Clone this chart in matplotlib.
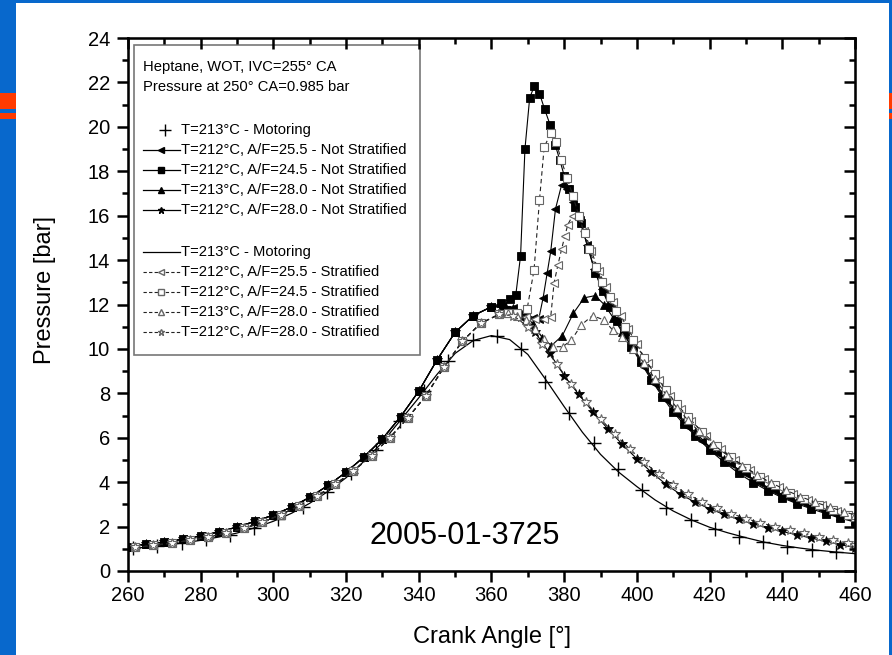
import matplotlib
matplotlib.use("Agg")
import matplotlib.pyplot as plt
from matplotlib.lines import Line2D
from matplotlib.patches import Rectangle
from matplotlib.ticker import MultipleLocator

plt.rcParams['font.family'] = ['Liberation Sans', 'DejaVu Sans']

# compression part shared by the runs
ca_comp_ns = [260, 265, 270, 275, 280, 285, 290, 295, 300, 305, 310, 315, 320, 325, 330, 335, 340,
              345, 350, 355, 360]
p_comp_ns = [1.10, 1.20, 1.30, 1.43, 1.58, 1.76, 1.98, 2.24, 2.52, 2.88, 3.32, 3.85, 4.45, 5.15, 5.95, 6.95, 8.10,
             9.50, 10.75, 11.50, 11.90]
ca_comp_s = [262, 267, 272, 277, 282, 287, 292, 297, 302, 307, 312, 317, 322, 327, 332, 337, 342,
             347, 352, 357, 362]
p_comp_s = [1.06, 1.15, 1.26, 1.38, 1.53, 1.71, 1.93, 2.19, 2.54, 2.92, 3.37, 3.90, 4.50, 5.20, 6.00, 6.90, 7.90,
            9.20, 10.35, 11.15, 11.55]

# not stratified, after 360 deg
ca_ns255 = [363, 366, 369, 371.5, 373, 374.2, 375.3, 376.3, 377.6, 379.3, 380.8, 382.5, 384.3, 386.3, 388.3,
            390.4, 392.4, 394.5, 396.6, 399, 402, 405, 408, 411, 414, 418, 422, 426, 430, 434, 438, 442,
            446, 450, 454, 458, 460]
p_ns255 = [11.95, 11.85, 11.65, 11.4, 11.35, 12.3, 13.4, 14.4, 16.3, 17.4, 17.2, 16.6, 15.8, 14.7, 13.6,
           12.7, 12.0, 11.35, 10.75, 10.1, 9.2, 8.4, 7.7, 7.05, 6.5, 5.85, 5.3, 4.8, 4.35, 3.95, 3.6, 3.3,
           3.05, 2.82, 2.6, 2.42, 2.33]
ca_ns245 = [362.5, 365, 366.7, 368, 369.2, 370.5, 371.8, 373.2, 374.6, 376.1, 377.5, 378.8, 380, 381.3, 383,
            384.6, 386.6, 388.6, 390.6, 392.5, 394.5, 396.5, 398.5, 401, 404, 407, 410, 413, 416, 420, 424,
            428, 432, 436, 440, 444, 448, 452, 456, 460]
p_ns245 = [12.05, 12.25, 12.45, 14.2, 19.0, 21.3, 21.85, 21.5, 20.8, 20.1, 19.2, 18.5, 17.8, 17.2, 16.4,
           15.65, 14.5, 13.4, 12.6, 11.9, 11.25, 10.65, 10.1, 9.4, 8.6, 7.85, 7.15, 6.6, 6.1, 5.45, 4.9,
           4.4, 3.98, 3.62, 3.3, 3.03, 2.8, 2.58, 2.38, 2.2]
ca_ns280 = [363, 366, 369, 371.5, 374, 376.5, 379.5, 382.5, 385.5, 388.5, 391, 393.5, 396, 398.5, 401, 404,
            407, 410, 413, 416, 420, 424, 428, 432, 436, 440, 444, 448, 452, 456, 460]
p_ns280 = [11.95, 11.85, 11.6, 11.1, 10.5, 10.15, 10.6, 11.6, 12.3, 12.4, 12.0, 11.4, 10.75, 10.15, 9.5, 8.75,
           8.0, 7.35, 6.75, 6.25, 5.6, 5.05, 4.55, 4.12, 3.75, 3.42, 3.14, 2.9, 2.68, 2.48, 2.3]
ca_ns280b = [364, 368, 372, 376, 380, 384, 388, 392, 396, 400, 404, 408, 412, 416, 420, 424, 428, 432, 436,
             440, 444, 448, 452, 456, 460]
p_ns280b = [11.85, 11.45, 10.75, 9.8, 8.8, 7.95, 7.15, 6.4, 5.7, 5.05, 4.45, 3.9, 3.45, 3.1, 2.8, 2.55, 2.32,
            2.12, 1.95, 1.78, 1.63, 1.48, 1.34, 1.19, 1.05]

# stratified, after 362 deg
ca_s255 = [364.5, 367, 369.5, 372, 374.5, 376.3, 377.2, 378.3, 379.3, 380.2, 381, 382.3, 383.8, 385.5, 387.5,
           389.5, 391.5, 393.5, 395.5, 397.6, 400, 403, 406, 409, 412, 415, 419, 423, 427, 431, 435, 439,
           443, 447, 451, 455, 460]
p_s255 = [11.6, 11.55, 11.45, 11.35, 11.35, 11.45, 12.96, 13.8, 14.5, 15.1, 15.6, 16.0, 15.9, 15.3, 14.4,
          13.5, 12.8, 12.1, 11.5, 10.9, 10.2, 9.35, 8.6, 7.9, 7.3, 6.75, 6.1, 5.5, 5.0, 4.55, 4.15, 3.8,
          3.48, 3.2, 2.95, 2.72, 2.47]
ca_s245 = [364.5, 367, 369.8, 371.7, 373.2, 374.5, 376.3, 377.8, 379.2, 380.8, 382.4, 384, 385.6, 386.8, 388.7,
           390.5, 392.5, 394.3, 396.7, 399, 402, 405, 408, 411, 414, 418, 422, 426, 430, 434, 438, 442, 446,
           450, 454, 458, 460]
p_s245 = [11.6, 11.6, 11.8, 13.55, 16.7, 19.1, 19.7, 19.3, 18.5, 17.7, 16.9, 16.0, 15.2, 14.5, 13.7,
          13.0, 12.35, 11.7, 11.0, 10.4, 9.6, 8.85, 8.15, 7.5, 6.95, 6.25, 5.65, 5.12, 4.65, 4.22, 3.85, 3.52,
          3.24, 2.98, 2.75, 2.53, 2.43]
ca_s280 = [364.5, 367, 369.5, 372, 374.5, 377, 379.6, 382, 384.7, 387.8, 391, 393.3, 396, 399, 402, 405, 408,
           411, 414, 417, 421, 425, 429, 433, 437, 441, 445, 449, 453, 457, 460]
p_s280 = [11.6, 11.5, 11.3, 10.9, 10.45, 10.1, 10.1, 10.4, 11.08, 11.5, 11.3, 10.85, 10.55, 10.0, 9.35, 8.65,
          7.95, 7.35, 6.8, 6.3, 5.7, 5.2, 4.75, 4.33, 3.97, 3.64, 3.35, 3.1, 2.88, 2.67, 2.52]
ca_s280b = [366, 370, 374, 378, 382, 386, 390, 394, 398, 402, 406, 410, 414, 418, 422, 426, 430, 434, 438,
            442, 446, 450, 454, 458, 460]
p_s280b = [11.5, 11.0, 10.2, 9.3, 8.4, 7.6, 6.85, 6.15, 5.5, 4.9, 4.35, 3.85, 3.45, 3.12, 2.83, 2.58, 2.36,
           2.17, 2.0, 1.84, 1.69, 1.54, 1.4, 1.25, 1.18]

# motoring
ca_mot_pts = [261.4, 268.1, 274.8, 281.4, 288.1, 294.8, 301.4, 308.1, 314.8, 321.4, 328.1, 334.8, 341.4, 348.1,
              354.8, 361.4, 368.1, 374.8, 381.4, 388.1, 394.8, 401.4, 408.1, 414.8, 421.4, 428.1, 434.8, 441.4,
              448.1, 454.8]
p_mot_pts = [1.02, 1.13, 1.26, 1.42, 1.64, 1.94, 2.33, 2.88, 3.55, 4.4, 5.45, 6.75, 8.1, 9.45,
             10.4, 10.58, 10.0, 8.5, 7.1, 5.75, 4.6, 3.65, 2.85, 2.3, 1.88, 1.55, 1.3, 1.1,
             0.95, 0.84]
ca_mot = [260, 265, 270, 275, 280, 285, 290, 295, 300, 305, 310, 315, 320, 325, 330, 335, 340, 345, 350, 355,
          360, 365, 370, 375, 380, 385, 390, 395, 400, 405, 410, 415, 420, 425, 430, 435, 440, 445, 450, 455, 460]
p_mot = [1.0, 1.07, 1.16, 1.26, 1.38, 1.53, 1.71, 1.95, 2.24, 2.6, 3.05, 3.58, 4.2, 4.95, 5.8, 6.8, 7.8, 8.85,
         9.8, 10.38, 10.6, 10.42, 9.75, 8.6, 7.4, 6.25, 5.25, 4.45, 3.8, 3.2, 2.7, 2.3, 1.97, 1.72, 1.5, 1.3,
         1.15, 1.03, 0.93, 0.85, 0.78]

labels_ns = ["T=212°C, A/F=25.5 - Not Stratified", "T=212°C, A/F=24.5 - Not Stratified",
             "T=213°C, A/F=28.0 - Not Stratified", "T=212°C, A/F=28.0 - Not Stratified"]
labels_s = ["T=212°C, A/F=25.5 - Stratified", "T=212°C, A/F=24.5 - Stratified",
            "T=213°C, A/F=28.0 - Stratified", "T=212°C, A/F=28.0 - Stratified"]
markers = ['<', 's', '^', '*']

ns_runs = [(ca_ns255, p_ns255), (ca_ns245, p_ns245), (ca_ns280, p_ns280), (ca_ns280b, p_ns280b)]
s_runs = [(ca_s255, p_s255), (ca_s245, p_s245), (ca_s280, p_s280), (ca_s280b, p_s280b)]

fig = plt.figure(figsize=(8.92, 6.55), dpi=100)
fig.patch.set_facecolor('#0868CC')
fig.patches.append(Rectangle((0, 1 - 109 / 655), 1, 16 / 655, transform=fig.transFigure,
                             facecolor='#FF3B00', edgecolor='none', zorder=0))
fig.patches.append(Rectangle((0, 1 - 119 / 655), 1, 6 / 655, transform=fig.transFigure,
                             facecolor='#FF3B00', edgecolor='none', zorder=0))
fig.patches.append(Rectangle((16 / 892, 0), 873 / 892, 652 / 655, transform=fig.transFigure,
                             facecolor='white', edgecolor='none', zorder=1))

ax = fig.add_axes([128 / 892, 1 - 571 / 655, 727 / 892, 533 / 655])
ax.set_zorder(2)

ms = 6
for (ca, p), mk in zip(ns_runs, markers):
    x = ca_comp_ns + ca
    y = p_comp_ns + p
    ax.plot(x, y, color='black', lw=0.8, marker=mk, ms=ms + (1.5 if mk == '*' else 0),
            mfc='black', mec='black', mew=0.6)
ax.plot(ca_mot_pts, p_mot_pts, ls='none', marker='+', ms=9.5, mew=1.0, color='black')

ax.plot(ca_mot, p_mot, color='black', lw=0.9)
for (ca, p), mk in zip(s_runs, markers):
    x = ca_comp_s + ca
    y = p_comp_s + p
    ax.plot(x, y, color='#222222', lw=0.8, ls=(0, (4, 3)), marker=mk,
            ms=ms + (1.5 if mk == '*' else 0), mfc='white', mec='#666666', mew=0.8)

ax.set_xlim(260, 460)
ax.set_ylim(0, 24)
ax.xaxis.set_major_locator(MultipleLocator(20))
ax.xaxis.set_minor_locator(MultipleLocator(10))
ax.yaxis.set_major_locator(MultipleLocator(2))
ax.yaxis.set_minor_locator(MultipleLocator(1))
ax.tick_params(which='major', length=8, width=1.8, labelsize=14.5, direction='out', pad=3)
ax.tick_params(which='minor', length=4.5, width=1.8, direction='out')
ax.tick_params(axis='y', which='major', pad=5)
for s in ax.spines.values():
    s.set_linewidth(1.8)

# inward ticks on the top and right sides
ax2 = ax.twinx()
ax2.set_ylim(0, 24)
ax2.yaxis.set_major_locator(MultipleLocator(2))
ax2.yaxis.set_minor_locator(MultipleLocator(1))
ax2.tick_params(which='major', length=8, width=1.8, direction='in', labelright=False)
ax2.tick_params(which='minor', length=4.5, width=1.8, direction='in')
ax3 = ax.twiny()
ax3.set_xlim(260, 460)
ax3.xaxis.set_major_locator(MultipleLocator(20))
ax3.xaxis.set_minor_locator(MultipleLocator(10))
ax3.tick_params(which='major', length=8, width=1.8, direction='in', labeltop=False)
ax3.tick_params(which='minor', length=4.5, width=1.8, direction='in')

ax.text(0.4633, 0.0664, "2005-01-3725", transform=ax.transAxes, fontsize=22,
        ha='center', va='center')
fig.text(492 / 892, 1 - 637 / 655, "Crank Angle [°]", fontsize=17, ha='center', va='center')
fig.text(45 / 892, 1 - 290 / 655, "Pressure [bar]", fontsize=17, ha='center', va='center',
         rotation=90)

# legend box drawn by hand
ax.add_patch(Rectangle((0.0083, 0.4053), 0.3934, 0.5816, transform=ax.transAxes,
                       facecolor='white', edgecolor='#777777', lw=1.2, zorder=5))
fs = 10.6
hx0, hx1 = 0.0206, 0.0715
tx = 0.0735
ax.text(hx0, 0.9456, "Heptane, WOT, IVC=255° CA", transform=ax.transAxes, fontsize=fs,
        va='center', zorder=6)
ax.text(hx0, 0.9081, "Pressure at 250° CA=0.985 bar", transform=ax.transAxes, fontsize=fs,
        va='center', zorder=6)

rows_ns = [0.8274, 0.7899, 0.7523, 0.7148, 0.6773]
rows_s = [0.5985, 0.5610, 0.5235, 0.4859, 0.4484]
ax.add_line(Line2D([0.0509], [rows_ns[0]], transform=ax.transAxes, ls='none', marker='+',
                   ms=8, mew=1.0, color='black', zorder=6))
ax.text(tx, rows_ns[0], "T=213°C - Motoring", transform=ax.transAxes, fontsize=fs,
        va='center', zorder=6)
for yy, mk, lab in zip(rows_ns[1:], markers, labels_ns):
    ax.add_line(Line2D([hx0, (hx0 + hx1) / 2, hx1], [yy, yy, yy], transform=ax.transAxes,
                       color='black', lw=0.9, marker=mk, markevery=[1], ms=4.5,
                       mfc='black', mec='black', zorder=6))
    ax.text(tx, yy, lab, transform=ax.transAxes, fontsize=fs, va='center', zorder=6)

ax.add_line(Line2D([hx0, hx1], [rows_s[0], rows_s[0]], transform=ax.transAxes,
                   color='black', lw=0.9, zorder=6))
ax.text(tx, rows_s[0], "T=213°C - Motoring", transform=ax.transAxes, fontsize=fs,
        va='center', zorder=6)
for yy, mk, lab in zip(rows_s[1:], markers, labels_s):
    ax.add_line(Line2D([hx0, (hx0 + hx1) / 2, hx1], [yy, yy, yy], transform=ax.transAxes,
                       color='#222222', lw=0.8, ls=(0, (3, 2)), marker=mk, markevery=[1], ms=4.5,
                       mfc='white', mec='#666666', zorder=6))
    ax.text(tx, yy, lab, transform=ax.transAxes, fontsize=fs, va='center', zorder=6)

fig.savefig("out.png", dpi=100, facecolor=fig.get_facecolor())
